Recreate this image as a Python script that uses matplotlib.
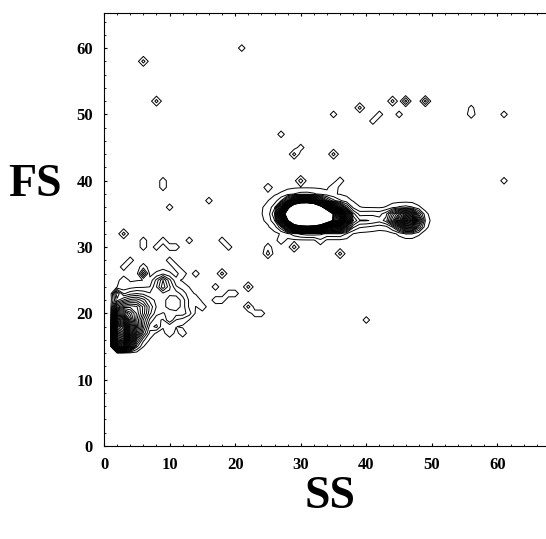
import matplotlib
matplotlib.use("Agg")
import matplotlib.pyplot as plt
import numpy as np

# single events on the 1-channel histogram grid: (SS, FS, count)
pt_ss = [21, 6, 8, 35, 39, 41, 42, 44, 45, 46, 49, 56, 56, 61, 61,
         27, 29, 30, 35, 30, 35, 36, 25, 9, 9, 16, 10, 3, 6, 6,
         8, 9, 10, 11, 13, 18, 19, 27, 33, 29, 25, 25, 36,
         3, 4, 6, 6, 10, 11, 12, 14, 18, 17, 22, 3, 2,
         14, 15, 17, 18, 19, 20, 22, 23, 24, 40, 8, 10, 12, 10, 12, 13]
pt_fs = [60, 58, 52, 50, 51, 49, 50, 52, 50, 52, 52, 50, 51, 50, 40,
         47, 44, 45, 44, 40, 39, 40, 39, 39, 40, 37, 36, 32, 30, 31,
         30, 31, 30, 30, 31, 31, 30, 31, 31, 30, 29, 30, 29,
         27, 28, 26, 27, 28, 27, 26, 26, 26, 24, 24, 25, 23,
         22, 21, 22, 22, 23, 23, 21, 20, 20, 19, 18, 17, 17, 19, 20, 20]
pt_n = [1, 2, 2, 1, 2, 1, 1, 2, 1, 3, 3, 1.2, 0.8, 1, 1,
        1, 2, 1, 2, 2, 1, 1, 1, 1, 1, 1, 1, 2, 1, 1,
        1, 1, 1, 1, 1, 1, 1, 1, 1, 2, 2, 1, 2,
        1, 1, 4, 1, 1, 1, 1, 1, 2, 1, 2, 1, 4,
        1, 1, 1, 1, 1, 1, 2, 1, 1, 1, 2, 1, 1, 2, 1, 1]

# cell populations: centre, spread and peak height
pop_ss = [29.5, 31.5, 33.5, 36.0, 31.0, 46.5, 44.5, 39.0, 41.5,
          2.2, 4.8, 5.0, 9.0, 8.0, 11.0]
pop_fs = [34.9, 34.9, 34.6, 34.2, 35.3, 34.0, 34.4, 34.0, 34.3,
          17.0, 20.5, 17.5, 24.5, 21.5, 21.5]
pop_sx = [1.3, 1.3, 1.5, 1.0, 4.5, 1.1, 1.0, 1.5, 1.5,
          1.3, 1.5, 1.0, 0.8, 3.0, 1.2]
pop_sy = [1.0, 1.0, 1.0, 1.0, 2.2, 0.9, 0.8, 0.8, 0.8,
          2.2, 1.5, 1.0, 0.8, 2.0, 1.5]
pop_h = [100, 100, 45, 20, 1.5, 20, 8, 2.5, 2.5,
         38, 9, 6, 6, 2.5, 3]

ss = np.arange(0, 68)
fs = np.arange(0, 66)
SS, FS = np.meshgrid(ss, fs)
Z = np.zeros(SS.shape)
for x, y, s1, s2, h in zip(pop_ss, pop_fs, pop_sx, pop_sy, pop_h):
    Z += h * np.exp(-((SS - x) ** 2 / (2 * s1 ** 2) + (FS - y) ** 2 / (2 * s2 ** 2)))
# gate: nothing recorded below the threshold channels
Z[(SS <= 1) | (FS <= 14)] = 0
for x, y, n in zip(pt_ss, pt_fs, pt_n):
    Z[y, x] += n

levels = np.arange(0.5, 40, 1.0)

fig = plt.figure(figsize=(5.46, 5.39), dpi=100)
ax = fig.add_axes([0.1905, 0.1725, 0.8095, 0.8035])
ax.contour(SS, FS, Z, levels=levels, colors='black', linewidths=0.7)

ax.set_xlim(0, 67.4)
ax.set_ylim(0, 65.3)
ax.set_xticks(np.arange(0, 61, 10))
ax.set_yticks(np.arange(0, 61, 10))
ax.set_xticks(np.arange(0, 67, 2), minor=True)
ax.set_yticks(np.arange(0, 65, 2), minor=True)
ax.tick_params(which='both', direction='in', top=True, right=False)
ax.tick_params(which='major', length=2.5, pad=8)
ax.tick_params(which='minor', length=1.5)
ax.spines['right'].set_visible(False)
for sp in ax.spines.values():
    sp.set_linewidth(0.8)
for lab in ax.get_xticklabels() + ax.get_yticklabels():
    lab.set_fontfamily('Liberation Serif')
    lab.set_fontweight('bold')
    lab.set_fontsize(12)

fig.text(0.064, 0.657, 'FS', fontfamily='Liberation Serif', fontweight='bold',
         fontsize=33, ha='center', va='center')
fig.text(0.605, 0.078, 'SS', fontfamily='Liberation Serif', fontweight='bold',
         fontsize=33, ha='center', va='center')

fig.savefig('out.png', dpi=100)
